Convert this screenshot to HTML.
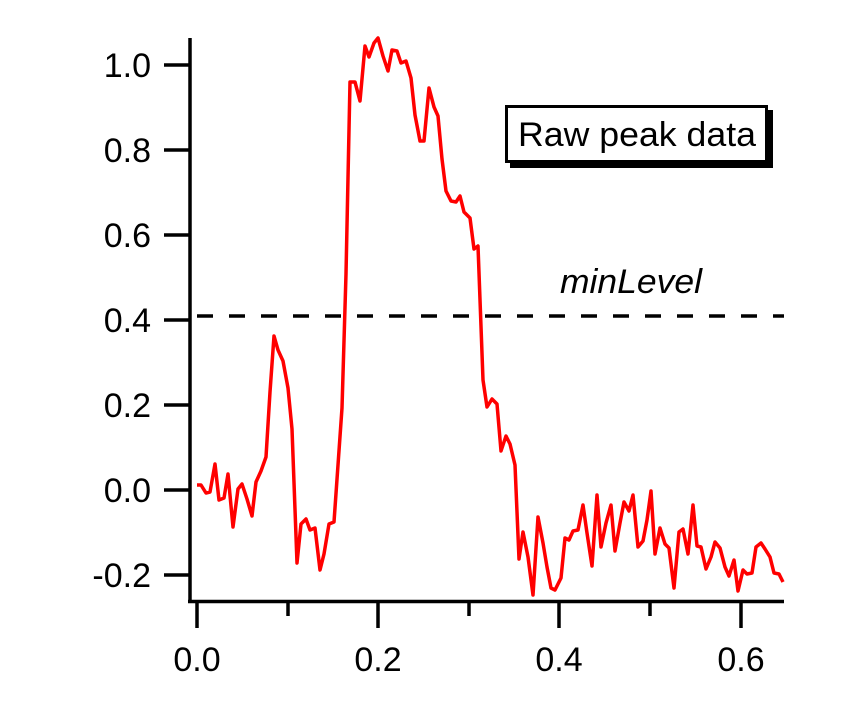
<!DOCTYPE html>
<html><head><meta charset="utf-8"><style>
html,body{margin:0;padding:0;background:#fff;}
svg{display:block;}
text{font-family:"Liberation Sans",Arial,sans-serif;font-size:34px;fill:#000;}
</style></head><body>
<svg width="867" height="723" viewBox="0 0 867 723" xmlns="http://www.w3.org/2000/svg">
<g stroke="#000" stroke-width="3.5" fill="none">
<line x1="190" y1="38" x2="190" y2="603"/>
<line x1="188" y1="601.5" x2="784" y2="601.5"/>
<line x1="164" y1="65" x2="190" y2="65"/>
<line x1="164" y1="150" x2="190" y2="150"/>
<line x1="164" y1="235" x2="190" y2="235"/>
<line x1="164" y1="320" x2="190" y2="320"/>
<line x1="164" y1="405" x2="190" y2="405"/>
<line x1="164" y1="490" x2="190" y2="490"/>
<line x1="164" y1="575" x2="190" y2="575"/>
<line x1="197" y1="601" x2="197" y2="628"/>
<line x1="288" y1="601" x2="288" y2="616"/>
<line x1="378" y1="601" x2="378" y2="628"/>
<line x1="469" y1="601" x2="469" y2="616"/>
<line x1="559" y1="601" x2="559" y2="628"/>
<line x1="650" y1="601" x2="650" y2="616"/>
<line x1="741" y1="601" x2="741" y2="628"/>
</g>
<g text-anchor="end">
<text x="151" y="77">1.0</text>
<text x="151" y="162">0.8</text>
<text x="151" y="247">0.6</text>
<text x="151" y="332">0.4</text>
<text x="151" y="417">0.2</text>
<text x="151" y="502">0.0</text>
<text x="151" y="587">-0.2</text>
</g>
<g text-anchor="middle">
<text x="197" y="671">0.0</text>
<text x="378" y="671">0.2</text>
<text x="559" y="671">0.4</text>
<text x="741" y="671">0.6</text>
</g>
<line x1="197" y1="316" x2="784" y2="316" stroke="#000" stroke-width="3.5" stroke-dasharray="16,16"/>
<polyline fill="none" stroke="#f00" stroke-width="3.5" stroke-linejoin="round" points="197,485 201,485 206,493 210,492 215,464 219,500 224,498 228,474 233,527 238,489 242,484 247,499 252,516 256,482 261,471 266,457 270,392 274,336 278,350 283,361 288,388 292,429 297,563 301,524 306,519 310,530 315,528 320,570 324,554 329,524 334,522 338,465 342,408 346,274 350,82 355,82 360,101 365,46 369,57 374,43 378,38 383,56 388,71 392,50 397,51 401,63 406,61 411,78 415,115 420,141 424,141 429,88 434,107 438,116 442,159 446,191 451,201 456,202 460,196 464,212 470,218 474,249 478,246 483,380 487,407 492,399 497,404 501,451 506,436 510,444 515,465 519,559 523,532 528,557 533,595 538,517 543,543 547,567 551,588 555,590 561,578 565,538 569,540 573,531 578,530 583,505 587,533 592,566 597,495 601,547 606,523 611,505 615,551 620,523 624,502 629,511 633,495 638,547 643,541 647,520 651,491 655,554 660,528 665,544 669,548 674,588 679,532 683,529 688,554 693,505 697,546 701,547 706,569 711,557 715,542 720,548 725,567 729,576 734,560 738,591 743,570 747,574 752,573 756,547 761,543 765,549 770,557 774,573 779,574 783,582"/>
<rect x="510" y="110" width="263" height="58" fill="#000"/>
<rect x="506.5" y="106.5" width="260" height="55" fill="#fff" stroke="#000" stroke-width="3"/>
<text x="637" y="146" text-anchor="middle" textLength="238" lengthAdjust="spacingAndGlyphs">Raw peak data</text>
<text x="631" y="293" text-anchor="middle" font-style="italic" textLength="142" lengthAdjust="spacingAndGlyphs">minLevel</text>
</svg>
</body></html>
